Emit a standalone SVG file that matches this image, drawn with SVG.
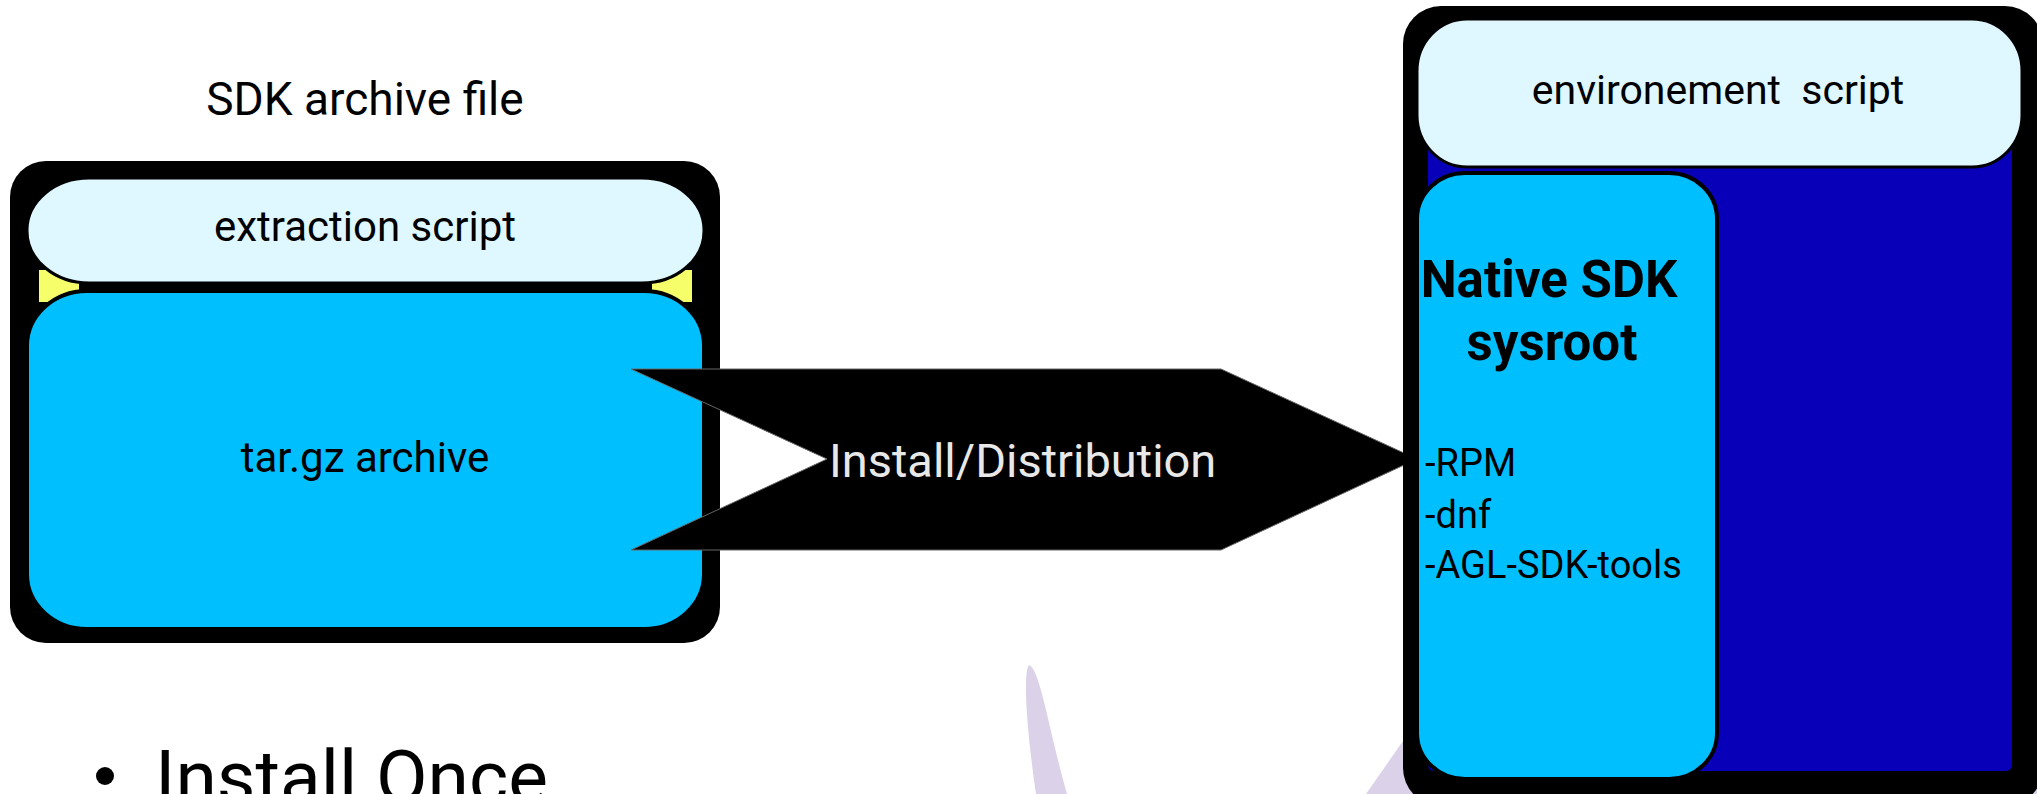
<svg xmlns="http://www.w3.org/2000/svg" width="2037" height="794" viewBox="0 0 2037 794">
  <style>
    text { font-family: Roboto, "Liberation Sans", sans-serif; fill: #000; }
    .outer { fill: #000; }
    .pill { fill: #dff7ff; stroke: #000; stroke-width: 3; }
    .blue { fill: #00bfff; stroke: #000; stroke-width: 4; }
    .lav { fill: #dbd2e9; }
    .yel { fill: #f6fe6a; }
    .mid { text-anchor: middle; }
  </style>
  <rect width="2037" height="794" fill="#fff"/>
  <g id="background">
    <path class="lav" d="M1029,665 C1023,672 1026,725 1036,794 L1067,794 C1050,735 1040,668 1029,665 Z"/>
    <polygon class="lav" points="1366,794 1412,728 2037,728 2037,794"/>
  </g>
  <g id="sdk-archive">
    <text class="mid" x="365" y="115" font-size="46">SDK archive file</text>
    <rect class="outer" x="10" y="161" width="710" height="482" rx="36" ry="36"/>
    <rect class="yel" x="39" y="270" width="40" height="32"/>
    <rect class="yel" x="652" y="270" width="40" height="32"/>
    <g id="extraction-script">
      <rect class="pill" x="27" y="178" width="677" height="105" rx="62" ry="52"/>
      <text class="mid" x="365" y="241" font-size="42">extraction script</text>
    </g>
    <g id="tar-archive">
      <rect class="blue" x="27" y="291" width="677" height="338" rx="60" ry="55"/>
      <text class="mid" x="365" y="472" font-size="42">tar.gz archive</text>
    </g>
  </g>
  <g id="connectors">
    <polygon points="631,369 1221,369 1417,459 1221,550 631,550 827,459" fill="#000" stroke="#666" stroke-width="1"/>
    <text x="829" y="477" font-size="47" style="fill:#e8e8e8">Install/Distribution</text>
  </g>
  <g id="native-sdk">
    <rect class="outer" x="1403" y="6" width="640" height="800" rx="38" ry="38"/>
    <rect x="1428" y="140" width="584" height="631" rx="6" ry="6" fill="#0800b8"/>
    <g id="environment-script">
      <rect class="pill" x="1417" y="19" width="605" height="148" rx="50" ry="52"/>
      <text class="mid" x="1718" y="104" font-size="41" xml:space="preserve">environement  script</text>
    </g>
    <g id="sysroot">
      <rect class="blue" x="1417" y="173" width="300" height="606" rx="48" ry="46" stroke-width="5"/>
      <text class="mid" x="1549" y="297" font-size="51" font-weight="bold">Native SDK</text>
      <text class="mid" x="1552" y="360" font-size="51" font-weight="bold">sysroot</text>
      <text x="1425" y="476" font-size="38">-RPM</text>
      <text x="1425" y="528" font-size="38">-dnf</text>
      <text x="1425" y="578" font-size="38">-AGL-SDK-tools</text>
    </g>
  </g>
  <g id="bullet">
    <circle cx="105" cy="776" r="9" fill="#000"/>
    <text x="155" y="803" font-size="75">Install Once</text>
  </g>
</svg>
